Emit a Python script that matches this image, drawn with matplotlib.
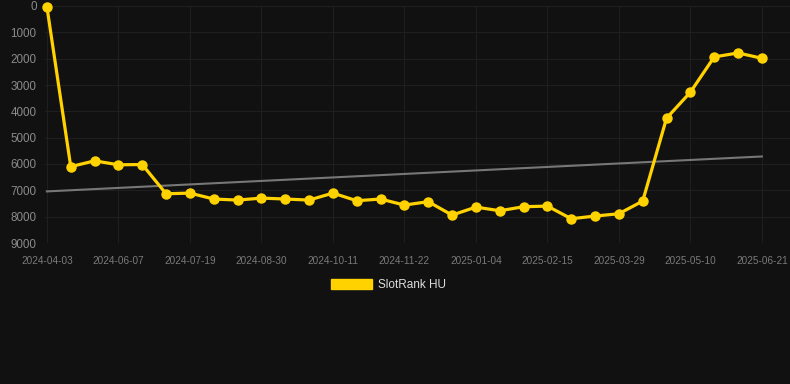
import matplotlib.pyplot as plt
import numpy as np

# --- datos ---
etiquetas = ["2024-04-03", "2024-06-07", "2024-07-19", "2024-08-30", "2024-10-11",
             "2024-11-22", "2025-01-04", "2025-02-15", "2025-03-29", "2025-05-10",
             "2025-06-21"]
ranking = [30, 6100, 5880, 6030, 6020, 7130, 7105, 7330, 7370, 7295, 7330,
           7370, 7105, 7395, 7330, 7560, 7430, 7940, 7636, 7775, 7623, 7598,
           8078, 7977, 7889, 7408, 4260, 3274, 1934, 1783, 1985]
tendencia = [7041, 5714]  # inicio y fin de la linea gris

fondo = "#111111"
amarillo = "#FFD200"
plt.rcParams["font.family"] = ["Liberation Sans", "DejaVu Sans"]

fig = plt.figure(figsize=(7.9, 3.84), dpi=100, facecolor=fondo)
ax = fig.add_axes([45 / 790, 1 - 243 / 384, 1 - 45 / 790, 237 / 384])
ax.set_facecolor(fondo)

x = np.arange(len(ranking))
ax.plot([x[0], x[-1]], tendencia, color="#777777", lw=1.5, zorder=2)
ax.plot(x, ranking, color=amarillo, lw=2.3, marker="o", ms=6.5,
        zorder=3, clip_on=False, label="SlotRank HU")

ax.set_ylim(9000, 0)
ax.set_yticks(range(0, 9001, 1000))
ax.set_xlim(-0.08, 31.18)
ax.set_xticks(x[::3])
ax.set_xticklabels(etiquetas)

ax.grid(True, color="#1f1f1f", lw=0.8)
ax.tick_params(axis="y", length=0, colors="#8a8a8a", labelsize=8.4, pad=6)
ax.tick_params(axis="x", length=0, colors="#7a7a7a", labelsize=7.2, pad=9)
for s in ax.spines.values():
    s.set_visible(False)

leg = fig.legend(handles=[plt.Rectangle((0, 0), 1, 1, color=amarillo)],
                 labels=["SlotRank HU"], loc="center", bbox_to_anchor=(388.5 / 790, 1 - 285 / 384),
                 frameon=False, handlelength=3.4, handleheight=0.95,
                 fontsize=8.5, labelcolor="#dddddd", handletextpad=0.5)

fig.savefig("out.png", dpi=100, facecolor=fondo)
